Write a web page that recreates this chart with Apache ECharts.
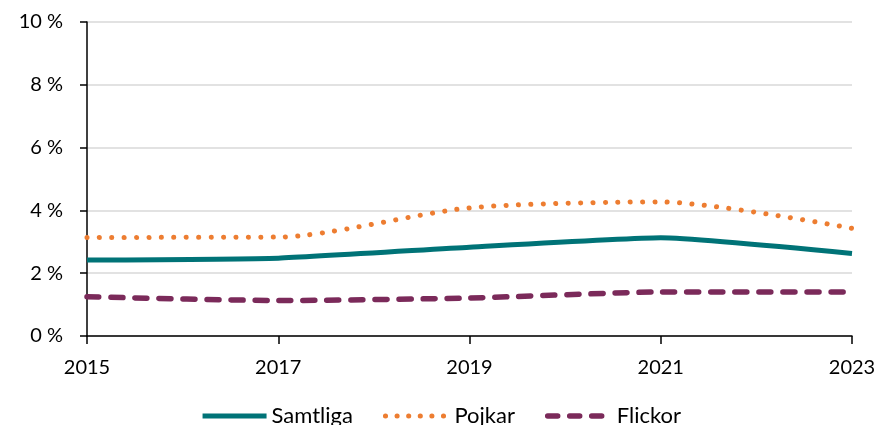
<!DOCTYPE html>
<html><head><meta charset="utf-8">
<script src="https://cdn.jsdelivr.net/npm/echarts@6/dist/echarts.min.js"></script>
<style>html,body{margin:0;padding:0;background:#fff}#c{width:881px;height:425px}</style>
</head><body><div id="c"></div>
<script>
const years = ['2015','2017','2019','2021','2023'];
const samtliga = [2.42, 2.48, 2.83, 3.13, 2.63];
const pojkar = [3.14, 3.15, 4.08, 4.27, 3.43];
const flickor = [1.25, 1.13, 1.21, 1.40, 1.40];
const yTicks = [0, 2, 4, 6, 8, 10];

const font = 'Lato, "Open Sans", sans-serif';
const C1 = '#007377', C2 = '#ED7D31', C3 = '#7B2A5A';
const chart = echarts.init(document.getElementById('c'), null, {renderer:'canvas'});
chart.setOption({
  animation:false,
  textStyle:{fontFamily:font},
  grid:{left:87,right:29,top:22,bottom:89,containLabel:false},
  legend:{
    bottom:-7,left:'center',itemWidth:64,itemHeight:14,itemGap:30,
    textStyle:{fontSize:22,color:'#000',fontFamily:font},
    itemStyle:{opacity:0},
    data:[
      {name:'Samtliga',lineStyle:{color:C1,width:5,type:'solid'}},
      {name:'Pojkar',lineStyle:{color:C2,width:5,type:[0.1,11.5],cap:'round'}},
      {name:'Flickor',lineStyle:{color:C3,width:5.5,type:[10,12],cap:'round'}}
    ]
  },
  xAxis:{type:'category',data:years,boundaryGap:false,
    axisLine:{lineStyle:{color:'#000',width:1.5}},
    axisTick:{length:8,lineStyle:{color:'#000',width:1.5}},
    axisLabel:{fontSize:20,color:'#000',margin:22,fontFamily:font},
    splitLine:{show:false}},
  yAxis:{type:'value',min:yTicks[0],max:yTicks[yTicks.length-1],interval:2,
    axisLine:{show:true,lineStyle:{color:'#000',width:1.5}},
    axisTick:{show:true,length:7,lineStyle:{color:'#000',width:1.5}},
    axisLabel:{fontSize:20,color:'#000',margin:24,fontFamily:font,formatter:v=>v+' %'},
    splitLine:{lineStyle:{color:'#d9d9d9',width:1.5}}},
  series:[
    {name:'Samtliga',type:'line',data:samtliga,symbol:'none',smooth:0.15,
      color:C1,lineStyle:{color:C1,width:5}},
    {name:'Pojkar',type:'line',data:pojkar,symbol:'none',smooth:0.25,
      color:C2,lineStyle:{color:C2,width:5,type:[0.1,12.3],cap:'round'}},
    {name:'Flickor',type:'line',data:flickor,symbol:'none',smooth:0.2,
      color:C3,lineStyle:{color:C3,width:5.5,type:[12,12],cap:'round'}}
  ]
});
</script></body></html>
